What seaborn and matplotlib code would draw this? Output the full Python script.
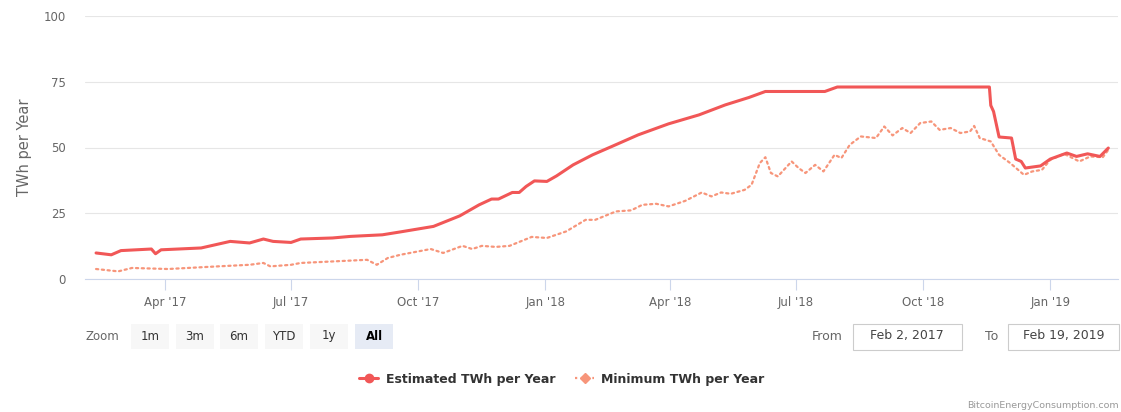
import matplotlib
matplotlib.use("Agg")
import matplotlib.pyplot as plt
import matplotlib.dates as mdates
from matplotlib.lines import Line2D
from matplotlib.patches import Rectangle
import pandas as pd
import seaborn as sns

# estimated consumption
est_dates = ["2017-02-10", "2017-02-21", "2017-02-28", "2017-03-22", "2017-03-25", "2017-03-29",
             "2017-04-27", "2017-05-18", "2017-06-01", "2017-06-11", "2017-06-18", "2017-07-01",
             "2017-07-08", "2017-07-31", "2017-08-13", "2017-09-05", "2017-09-18", "2017-10-12",
             "2017-10-31", "2017-11-14", "2017-11-23", "2017-11-28", "2017-12-08", "2017-12-13",
             "2017-12-18", "2017-12-24", "2018-01-02", "2018-01-09", "2018-01-21", "2018-02-04",
             "2018-02-18", "2018-03-09", "2018-03-31", "2018-04-22", "2018-05-11", "2018-05-28",
             "2018-06-09", "2018-07-22", "2018-07-31", "2018-11-18", "2018-11-19", "2018-11-21",
             "2018-11-25", "2018-12-04", "2018-12-07", "2018-12-11", "2018-12-14", "2018-12-25",
             "2019-01-01", "2019-01-13", "2019-01-20", "2019-01-28", "2019-02-06", "2019-02-12"]
est_vals = [9.9, 9.2, 10.8, 11.4, 9.6, 11.1, 11.8, 14.3, 13.7, 15.2,
            14.3, 13.9, 15.2, 15.6, 16.2, 16.8, 17.9, 20.0, 24.0, 28.2,
            30.4, 30.4, 32.9, 32.9, 35.2, 37.3, 37.1, 39.2, 43.4, 47.2,
            50.4, 54.8, 59.0, 62.4, 66.2, 69.0, 71.3, 71.3, 73.0, 73.0,
            66.0, 63.7, 54.0, 53.6, 45.6, 44.7, 42.2, 43.0, 45.6, 47.9,
            46.6, 47.6, 46.6, 49.8]

# minimum consumption
min_dates = ["2017-02-10", "2017-02-26", "2017-03-08", "2017-04-03", "2017-05-09", "2017-06-01",
             "2017-06-11", "2017-06-16", "2017-07-01", "2017-07-08", "2017-08-01", "2017-08-25",
             "2017-09-01", "2017-09-09", "2017-09-18", "2017-10-10", "2017-10-19", "2017-11-02",
             "2017-11-09", "2017-11-16", "2017-11-26", "2017-12-06", "2017-12-22", "2018-01-02",
             "2018-01-16", "2018-01-30", "2018-02-06", "2018-02-21", "2018-03-04", "2018-03-12",
             "2018-03-22", "2018-03-31", "2018-04-12", "2018-04-24", "2018-05-01", "2018-05-08",
             "2018-05-15", "2018-05-25", "2018-05-30", "2018-06-05", "2018-06-09", "2018-06-13",
             "2018-06-18", "2018-06-28", "2018-07-03", "2018-07-08", "2018-07-15", "2018-07-21",
             "2018-07-29", "2018-08-03", "2018-08-09", "2018-08-17", "2018-08-28", "2018-09-03",
             "2018-09-09", "2018-09-16", "2018-09-22", "2018-09-29", "2018-10-07", "2018-10-13",
             "2018-10-21", "2018-10-28", "2018-11-04", "2018-11-07", "2018-11-11", "2018-11-19",
             "2018-11-25", "2018-12-03", "2018-12-13", "2018-12-19", "2018-12-26", "2019-01-01",
             "2019-01-11", "2019-01-22", "2019-01-30", "2019-02-08", "2019-02-12"]
min_vals = [3.8, 2.9, 4.2, 3.8, 4.8, 5.4, 6.1, 4.8, 5.4, 6.1,
            6.7, 7.3, 5.4, 8.0, 9.2, 11.4, 9.9, 12.6, 11.4, 12.6,
            12.2, 12.6, 16.0, 15.6, 18.1, 22.5, 22.5, 25.7, 26.1, 28.2,
            28.6, 27.6, 29.7, 32.9, 31.4, 32.9, 32.4, 33.9, 35.8, 44.1,
            46.3, 40.3, 39.0, 44.7, 42.2, 40.3, 43.4, 40.9, 47.2, 46.0,
            51.0, 54.2, 53.6, 58.0, 54.6, 57.4, 55.5, 59.3, 59.9, 56.7,
            57.4, 55.5, 56.1, 58.2, 53.6, 52.3, 47.2, 44.1, 39.6, 40.9,
            41.5, 45.3, 47.6, 44.7, 46.6, 46.3, 49.1]

zoom_buttons = ["1m", "3m", "6m", "YTD", "1y", "All"]
range_from = "Feb 2, 2017"
range_to = "Feb 19, 2019"

EST_COLOR = "#f15757"
MIN_COLOR = "#f7957a"

W, H = 1121, 412
def fx(px):
    return px / W
def fy(py):
    return 1 - py / H

sns.set_theme(style="white")
plt.rcParams["font.family"] = ["DejaVu Sans"]

fig = plt.figure(figsize=(W / 100, H / 100), dpi=100)
ax = fig.add_axes([fx(85), fy(279), fx(1118) - fx(85), fy(16) - fy(279)])

est = pd.DataFrame({"date": pd.to_datetime(est_dates), "twh": est_vals})
mn = pd.DataFrame({"date": pd.to_datetime(min_dates), "twh": min_vals})

sns.lineplot(data=mn, x="date", y="twh", ax=ax, color=MIN_COLOR, lw=1.6,
             linestyle=(0, (1, 1.6)), dash_capstyle="round", zorder=3)
sns.lineplot(data=est, x="date", y="twh", ax=ax, color=EST_COLOR, lw=2.2, zorder=4)

ax.set_xlim(pd.Timestamp("2017-02-02"), pd.Timestamp("2019-02-19"))
ax.set_ylim(0, 100)
ax.set_yticks([0, 25, 50, 75, 100])
ax.xaxis.set_major_locator(mdates.MonthLocator(bymonth=[1, 4, 7, 10]))
ax.xaxis.set_major_formatter(mdates.DateFormatter("%b '%y"))

ax.grid(axis="y", color="#e6e6e6", lw=0.8)
ax.grid(axis="x", visible=False)
for s in ["top", "left", "right"]:
    ax.spines[s].set_visible(False)
ax.spines["bottom"].set_color("#ccd6eb")
ax.spines["bottom"].set_linewidth(0.8)
ax.tick_params(axis="x", colors="#ccd6eb", length=8, width=0.8, direction="out",
               labelcolor="#666666", labelsize=8.5, pad=4, bottom=True)
ax.tick_params(axis="y", length=0, labelcolor="#666666", labelsize=8.5, pad=14)
ax.set_xlabel("")
ax.set_ylabel("TWh per Year", color="#666666", fontsize=10.5, labelpad=8)

# range selector row
fig.text(fx(85), fy(337), "Zoom", fontsize=8.5, color="#666666", va="center", ha="left")
btn_x = [131, 176, 220, 265, 310, 355]
for label, x0 in zip(zoom_buttons, btn_x):
    active = label == "All"
    fig.patches.append(Rectangle((fx(x0), fy(349)), fx(38), fy(324) - fy(349),
                                 transform=fig.transFigure,
                                 facecolor="#e6ebf5" if active else "#f7f7f7",
                                 edgecolor="none"))
    fig.text(fx(x0 + 19), fy(336), label, fontsize=8.5, color="#000000" if active else "#333333",
             fontweight="bold" if active else "normal", ha="center", va="center")

fig.text(fx(843), fy(336), "From", fontsize=9, color="#666666", ha="right", va="center")
fig.patches.append(Rectangle((fx(853), fy(350)), fx(109), fy(324) - fy(350),
                             transform=fig.transFigure, facecolor="white",
                             edgecolor="#cccccc", lw=0.8))
fig.text(fx(907), fy(336), range_from, fontsize=9, color="#444444", ha="center", va="center")
fig.text(fx(998), fy(336), "To", fontsize=9, color="#666666", ha="right", va="center")
fig.patches.append(Rectangle((fx(1008), fy(350)), fx(111), fy(324) - fy(350),
                             transform=fig.transFigure, facecolor="white",
                             edgecolor="#cccccc", lw=0.8))
fig.text(fx(1064), fy(336), range_to, fontsize=9, color="#444444", ha="center", va="center")

# legend
handles = [
    Line2D([], [], color=EST_COLOR, lw=2.2, marker="o", markersize=6),
    Line2D([], [], color=MIN_COLOR, lw=1.6, linestyle=(0, (1, 1.6)), marker="D", markersize=5),
]
leg = fig.legend(handles, ["Estimated TWh per Year", "Minimum TWh per Year"],
                 loc="center", bbox_to_anchor=(fx(562), fy(379)), ncol=2, frameon=False,
                 handlelength=1.5, handletextpad=0.6, columnspacing=1.6,
                 prop={"size": 9, "weight": "bold"})
for t in leg.get_texts():
    t.set_color("#333333")

fig.text(fx(1119), fy(405), "BitcoinEnergyConsumption.com", fontsize=6.8, color="#999999",
         ha="right", va="center")

fig.savefig("out.png", dpi=100)
